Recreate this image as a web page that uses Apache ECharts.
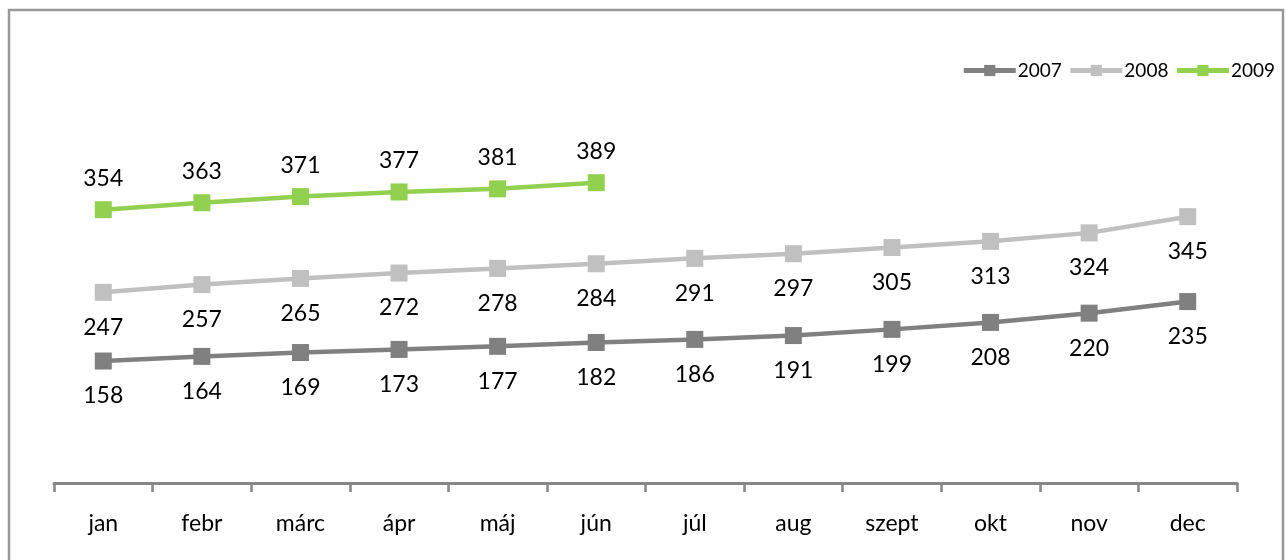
<!DOCTYPE html>
<html>
<head>
<meta charset="utf-8">
<script src="https://cdn.jsdelivr.net/npm/echarts@6/dist/echarts.min.js"></script>
<style>
html,body{margin:0;padding:0;background:#fff;}
#c{width:1287px;height:560px;}
</style>
</head>
<body>
<div id="c"></div>
<script>
const categories = ['jan','febr','márc','ápr','máj','jún','júl','aug','szept','okt','nov','dec'];
const seriesNames = ['2007','2008','2009'];
const values2007 = [158,164,169,173,177,182,186,191,199,208,220,235];
const values2008 = [247,257,265,272,278,284,291,297,305,313,324,345];
const values2009 = [354,363,371,377,381,389];
const colors = ['#808080','#c0c0c0','#92d050'];

const FONT = 'Lato';
const chart = echarts.init(document.getElementById('c'), null, {renderer:'canvas'});

function mkSeries(name, data, color, pos) {
  return {
    name: name,
    type: 'line',
    data: data,
    symbol: 'rect',
    symbolSize: 17,
    lineStyle: {color: color, width: 4.5},
    itemStyle: {color: color, borderRadius: 2},
    label: {
      show: true,
      position: pos,
      distance: pos === 'top' ? 11 : 15,
      color: '#000',
      fontFamily: FONT,
      fontSize: 23,
      letterSpacing: -1.3
    },
    emphasis: {disabled: true},
    animation: false
  };
}

chart.setOption({
  backgroundColor: '#fff',
  animation: false,
  graphic: [{
    type: 'rect',
    shape: {x: 9, y: 10, width: 1274, height: 560},
    style: {fill: 'none', stroke: '#999999', lineWidth: 2.5},
    silent: true
  }],
  legend: {
    data: seriesNames,
    right: 7,
    top: 56,
    itemWidth: 52,
    itemHeight: 14,
    itemGap: 6,
    lineStyle: {width: 5},
    textStyle: {fontFamily: FONT, fontSize: 19, color: '#000', padding: [0,0,0,-3], letterSpacing: -1.4}
  },
  grid: {left: 54, right: 50, top: 97, bottom: 77, containLabel: false},
  xAxis: {
    type: 'category',
    data: categories,
    boundaryGap: true,
    axisLine: {lineStyle: {color: '#868686', width: 3}},
    axisTick: {show: true, inside: false, length: 9, lineStyle: {color: '#868686', width: 2.5}},
    axisLabel: {color: '#000', fontFamily: FONT, fontSize: 23, margin: 29, letterSpacing: -0.8}
  },
  yAxis: {
    type: 'value',
    min: 0,
    max: 500,
    interval: 100,
    show: false,
    splitLine: {show: false}
  },
  series: [
    mkSeries(seriesNames[0], values2007, colors[0], 'bottom'),
    mkSeries(seriesNames[1], values2008, colors[1], 'bottom'),
    mkSeries(seriesNames[2], values2009, colors[2], 'top')
  ]
});
</script>
</body>
</html>
